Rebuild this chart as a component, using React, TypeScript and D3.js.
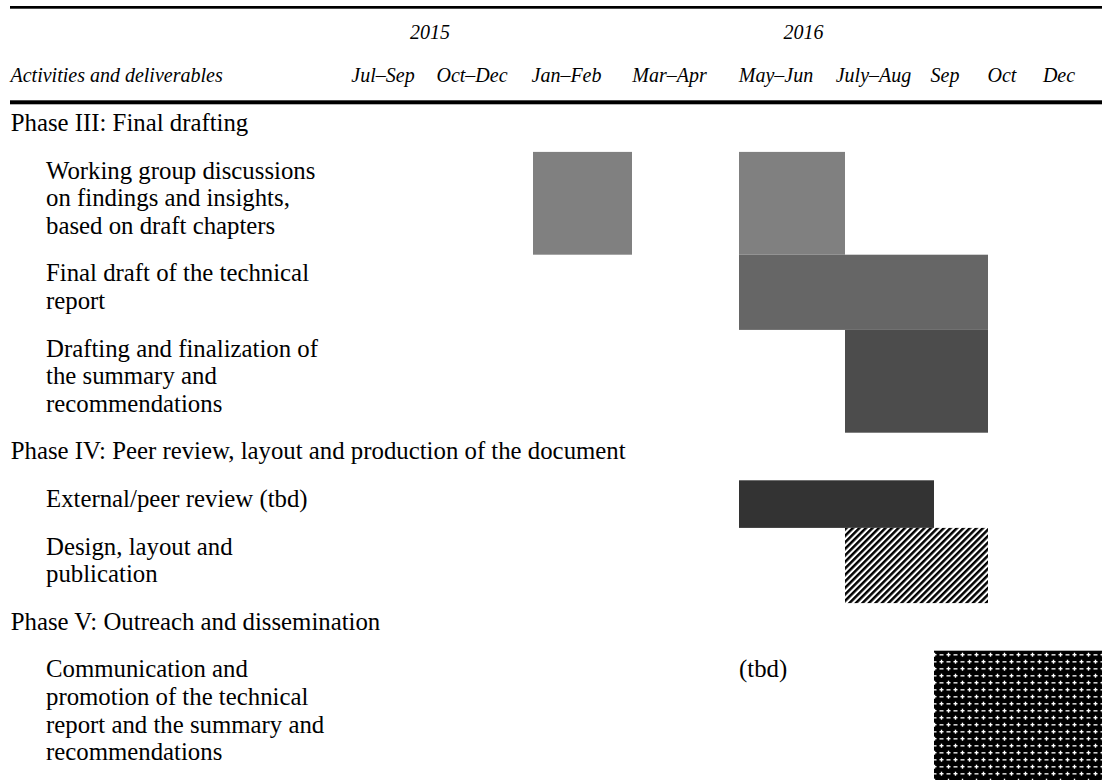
import React from 'react';
import * as d3 from 'd3';

// ---------- data ----------
const years = ['2015', '2016'];
const yearStartCol = [0, 2];
const yearEndCol = [2, 9];

const periods = ['Jul–Sep', 'Oct–Dec', 'Jan–Feb', 'Mar–Apr', 'May–Jun', 'July–Aug', 'Sep', 'Oct', 'Dec'];
const headerLabel = 'Activities and deliverables';

const rowLabels = [
  'Phase III: Final drafting',
  'Working group discussions\non findings and insights,\nbased on draft chapters',
  'Final draft of the technical\nreport',
  'Drafting and finalization of\nthe summary and\nrecommendations',
  'Phase IV: Peer review, layout and production of the document',
  'External/peer review (tbd)',
  'Design, layout and\npublication',
  'Phase V: Outreach and dissemination',
  'Communication and\npromotion of the technical\nreport and the summary and\nrecommendations',
];
const rowIsPhase = [true, false, false, false, true, false, false, true, false];

// bars: row, start column, end column (column index in periods), fill style
const barRows = [1, 1, 2, 3, 5, 6, 8];
const barStarts = [2, 4, 4, 5, 4, 5, 6];
const barEnds = [3, 5, 7, 7, 6, 7, 9];
const barStyles = ['grey50', 'grey50', 'grey40', 'grey30', 'grey20', 'diag', 'cross'];

const noteRows = [8];
const noteCols = [4];
const noteTexts = ['(tbd)'];

// ---------- layout ----------
const W = 1102;
const H = 780;
const colEdges = [355, 443, 533, 632, 739, 845, 934, 988, 1048, 1102];
const FONT = '"Liberation Serif", "Times New Roman", serif';
const BODY = 24.8;
const HEAD = 20;
const LINE = 27.6;
const ROWPAD = 20;
const TOP0 = 104.3;

const styleFill: Record<string, string> = {
  grey50: '#808080',
  grey40: '#666666',
  grey30: '#4c4c4c',
  grey20: '#333333',
  diag: 'url(#diagPat)',
  cross: 'url(#crossPat)',
};

export default function App() {
  const x = d3.scaleLinear().domain(d3.range(colEdges.length)).range(colEdges);

  const lines = rowLabels.map((l) => l.split('\n'));
  const heights = lines.map((ls) => ROWPAD + LINE * ls.length);
  const tops = [TOP0, ...Array.from(d3.cumsum(heights)).map((c) => TOP0 + c)];
  const y = (i: number) => tops[i];

  return (
    <svg
      width={W}
      height={H}
      style={{ position: 'absolute', left: 0, top: 0, background: '#fff' }}
      fontFamily={FONT}
    >
      <defs>
        <pattern id="diagPat" patternUnits="userSpaceOnUse" width={4.6} height={10} patternTransform="rotate(45)">
          <rect width={10} height={10} fill="#fff" />
          <rect width={2.5} height={10} fill="#000" />
        </pattern>
        <pattern id="crossPat" patternUnits="userSpaceOnUse" width={14} height={14}>
          <rect width={14} height={14} fill="#000" />
          <rect x={1.5} y={3} width={4} height={1.4} fill="#fff" />
          <rect x={2.8} y={1.7} width={1.4} height={4} fill="#fff" />
          <rect x={8.5} y={3.2} width={4} height={1.3} fill="#fff" />
          <rect x={1.5} y={10.2} width={4} height={1.3} fill="#fff" />
          <rect x={8.5} y={10} width={4} height={1.4} fill="#fff" />
          <rect x={9.8} y={8.7} width={1.4} height={4} fill="#fff" />
        </pattern>
      </defs>

      {/* rules */}
      <rect x={10} y={6} width={W - 10} height={2.7} fill="#000" />
      <rect x={10} y={100.3} width={W - 10} height={4} fill="#000" />

      {/* year labels */}
      {years.map((yr, i) => (
        <text
          key={yr}
          x={(x(yearStartCol[i]) + x(yearEndCol[i])) / 2 - 14}
          y={39.3}
          fontSize={HEAD}
          fontStyle="italic"
          textAnchor="middle"
        >
          {yr}
        </text>
      ))}

      {/* header */}
      <text x={10.5} y={82} fontSize={HEAD} fontStyle="italic">
        {headerLabel}
      </text>
      {periods.map((p, i) => (
        <text key={p} x={(x(i) + x(i + 1)) / 2 - 16} y={82} fontSize={HEAD} fontStyle="italic" textAnchor="middle">
          {p}
        </text>
      ))}

      {/* bars */}
      {barRows.map((r, i) => (
        <rect
          key={'b' + i}
          x={x(barStarts[i])}
          y={y(r)}
          width={x(barEnds[i]) - x(barStarts[i])}
          height={heights[r]}
          fill={styleFill[barStyles[i]]}
        />
      ))}

      {/* row labels */}
      {lines.map((ls, r) => (
        <text key={'r' + r} x={rowIsPhase[r] ? 10.7 : 46} y={y(r) + 26.7} fontSize={BODY}>
          {ls.map((l, j) => (
            <tspan key={j} x={rowIsPhase[r] ? 10.7 : 46} y={y(r) + 26.7 + j * LINE}>
              {l}
            </tspan>
          ))}
        </text>
      ))}

      {/* notes */}
      {noteRows.map((r, i) => (
        <text key={'n' + i} x={x(noteCols[i])} y={y(r) + 26.7} fontSize={BODY}>
          {noteTexts[i]}
        </text>
      ))}
    </svg>
  );
}
